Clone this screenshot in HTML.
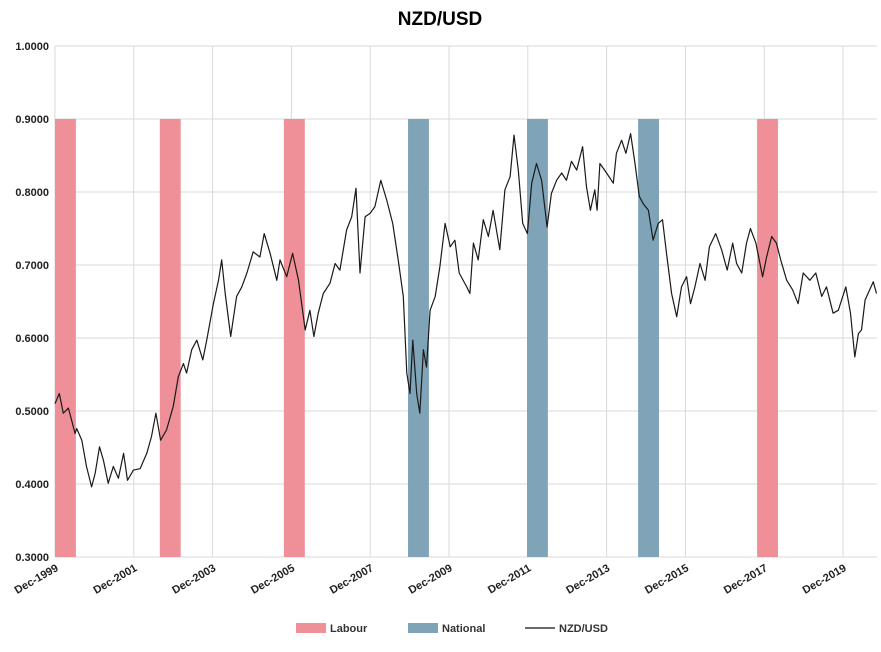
<!DOCTYPE html>
<html><head><meta charset="utf-8"><style>
body{margin:0;background:#fff;font-family:"Liberation Sans",sans-serif}
svg text{font-family:"Liberation Sans",sans-serif}
</style></head><body>
<svg id="chart" width="881" height="647">
<text x="440" y="25" text-anchor="middle" font-size="19" font-weight="bold" fill="#000">NZD/USD</text>
<g id="grid"></g><g id="bars"></g><g id="line"></g><g id="axes"></g>
<g>
<rect x="296" y="623" width="30" height="10" fill="#ef8f97"/>
<text x="330" y="632" font-size="11" font-weight="bold" fill="#333">Labour</text>
<rect x="408" y="623" width="30" height="10" fill="#7fa4b7"/>
<text x="442" y="632" font-size="11" font-weight="bold" fill="#333">National</text>
<line x1="525" y1="628" x2="555" y2="628" stroke="#111" stroke-width="1.2"/>
<text x="559" y="632" font-size="11" font-weight="bold" fill="#333">NZD/USD</text>
</g>
</svg>
<script>
const yTicks=[0.3,0.4,0.5,0.6,0.7,0.8,0.9,1.0];
const xTickYears=[1999.92,2001.92,2003.92,2005.92,2007.92,2009.92,2011.92,2013.92,2015.92,2017.92,2019.92];
const xTickLabels=["Dec-1999","Dec-2001","Dec-2003","Dec-2005","Dec-2007","Dec-2009","Dec-2011","Dec-2013","Dec-2015","Dec-2017","Dec-2019"];
const partyStarts=[1999.92,2002.58,2005.73,2008.88,2011.9,2014.72,2017.74];
const partyNames=["Labour","Labour","Labour","National","National","National","Labour"];
const partyTop=0.9;
const dates=[1999.92,2000.03,2000.13,2000.26,2000.34,2000.43,2000.47,2000.60,2000.72,2000.85,2000.94,2001.05,2001.15,2001.27,2001.40,2001.53,2001.66,2001.76,2001.91,2002.08,2002.25,2002.37,2002.48,2002.60,2002.75,2002.92,2003.05,2003.18,2003.26,2003.39,2003.52,2003.67,2003.77,2003.94,2004.07,2004.15,2004.24,2004.38,2004.53,2004.66,2004.79,2004.95,2005.12,2005.23,2005.38,2005.55,2005.63,2005.80,2005.95,2006.10,2006.27,2006.39,2006.49,2006.60,2006.73,2006.90,2007.03,2007.15,2007.32,2007.45,2007.56,2007.66,2007.79,2007.92,2008.04,2008.19,2008.34,2008.49,2008.63,2008.76,2008.85,2008.93,2009.00,2009.10,2009.18,2009.27,2009.35,2009.44,2009.57,2009.69,2009.82,2009.95,2010.07,2010.18,2010.37,2010.45,2010.54,2010.66,2010.79,2010.92,2011.04,2011.21,2011.34,2011.47,2011.57,2011.68,2011.79,2011.91,2012.02,2012.14,2012.27,2012.41,2012.52,2012.65,2012.78,2012.90,2013.03,2013.16,2013.31,2013.41,2013.51,2013.62,2013.68,2013.75,2013.92,2014.09,2014.17,2014.30,2014.41,2014.53,2014.64,2014.75,2014.85,2014.98,2015.10,2015.23,2015.34,2015.44,2015.57,2015.70,2015.82,2015.95,2016.05,2016.16,2016.29,2016.42,2016.53,2016.69,2016.84,2016.98,2017.12,2017.22,2017.35,2017.47,2017.57,2017.71,2017.88,2017.98,2018.11,2018.23,2018.34,2018.49,2018.64,2018.78,2018.91,2019.08,2019.23,2019.38,2019.50,2019.67,2019.80,2019.99,2020.11,2020.22,2020.31,2020.39,2020.48,2020.69,2020.77];
const rates=[0.510,0.524,0.497,0.504,0.488,0.469,0.476,0.460,0.424,0.396,0.415,0.451,0.432,0.401,0.424,0.408,0.442,0.405,0.419,0.421,0.442,0.465,0.497,0.460,0.474,0.506,0.547,0.565,0.552,0.584,0.597,0.570,0.597,0.647,0.679,0.707,0.661,0.602,0.657,0.670,0.689,0.718,0.711,0.743,0.716,0.679,0.707,0.684,0.716,0.679,0.611,0.638,0.602,0.634,0.661,0.675,0.702,0.693,0.748,0.766,0.805,0.689,0.766,0.771,0.780,0.816,0.789,0.757,0.707,0.657,0.552,0.524,0.597,0.524,0.497,0.584,0.560,0.638,0.657,0.698,0.757,0.725,0.734,0.689,0.670,0.661,0.730,0.707,0.762,0.739,0.775,0.721,0.803,0.821,0.878,0.830,0.757,0.743,0.812,0.839,0.816,0.752,0.798,0.816,0.826,0.816,0.842,0.830,0.862,0.807,0.775,0.803,0.775,0.839,0.826,0.812,0.853,0.871,0.853,0.880,0.839,0.794,0.784,0.775,0.734,0.757,0.762,0.716,0.661,0.629,0.670,0.684,0.647,0.670,0.702,0.679,0.725,0.743,0.721,0.693,0.730,0.702,0.689,0.730,0.750,0.730,0.684,0.711,0.739,0.730,0.707,0.679,0.666,0.647,0.689,0.679,0.689,0.657,0.670,0.634,0.638,0.670,0.634,0.574,0.606,0.611,0.652,0.677,0.661];
const NS="http://www.w3.org/2000/svg";
const X0=55,X1=877,D0=1999.92,PXY=39.4;
const x=d=>X0+(d-D0)*PXY;
const y=v=>557-(v-0.3)*730;
function mk(tag,attrs,parent){const e=document.createElementNS(NS,tag);for(const k in attrs)e.setAttribute(k,attrs[k]);document.getElementById(parent).appendChild(e);return e;}
yTicks.forEach(v=>{
 const l=mk("line",{x1:X0,x2:X1,y1:y(v),y2:y(v),stroke:"#d9d9d9","stroke-width":1},"grid");
 
 
 const t=mk("text",{x:49,y:y(v)+4,"text-anchor":"end","font-size":11,"font-weight":"bold",fill:"#222"},"axes");
 t.textContent=v.toFixed(4);
 
 
});
xTickYears.forEach((d,i)=>{
 const l=mk("line",{x1:x(d),x2:x(d),y1:46,y2:557,stroke:"#d9d9d9","stroke-width":1},"grid");
 
 
 const t=mk("text",{x:x(d)+4,y:570,"text-anchor":"end","font-size":11,"font-weight":"bold",fill:"#222",transform:`rotate(-30 ${x(d)+4} 570)`},"axes");
 t.textContent=xTickLabels[i];
 
 
});
partyStarts.forEach((d,i)=>{
 const r=mk("rect",{x:x(d),y:y(partyTop),width:0.53*PXY,height:y(0.3)-y(partyTop),fill:partyNames[i]==="Labour"?"#ef8f97":"#7fa4b7"},"bars");
 
 
});
const p=mk("polyline",{points:dates.map((d,i)=>x(d).toFixed(1)+","+y(rates[i]).toFixed(1)).join(" "),fill:"none",stroke:"#1a1a1a","stroke-width":1.2,"stroke-linejoin":"round"},"line");


</script>
</body></html>
